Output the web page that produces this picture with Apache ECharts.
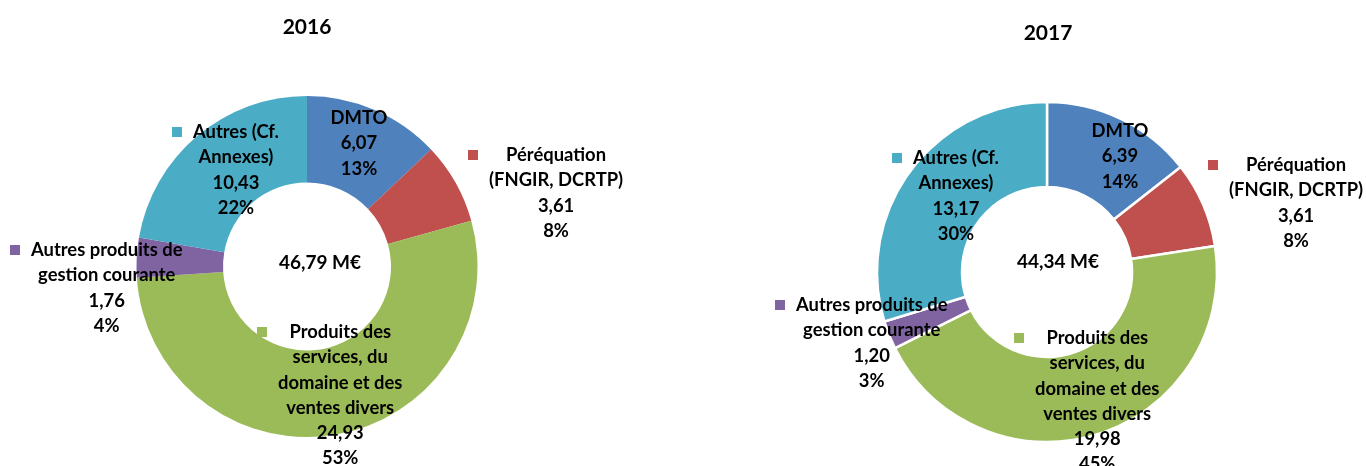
<!DOCTYPE html>
<html>
<head>
<meta charset="utf-8">
<script src="https://cdn.jsdelivr.net/npm/echarts@6/dist/echarts.min.js"></script>
<style>
html,body{margin:0;padding:0;background:#fff;}
#chart{width:1366px;height:466px;}
</style>
</head>
<body>
<div id="chart"></div>
<script>
// ---- data ----
const categories = ['DMTO', 'Péréquation\n(FNGIR, DCRTP)', 'Produits des\nservices, du\ndomaine et des\nventes divers', 'Autres produits de\ngestion courante', 'Autres (Cf.\nAnnexes)'];
const years = ['2016', '2017'];
const values2016 = [6.07, 3.61, 24.93, 1.76, 10.43];
const values2017 = [6.39, 3.61, 19.98, 1.20, 13.17];
const totalLabels = ['46,79 M€', '44,34 M€'];
const showKey = [false, true, true, true, true];

// ---- styles / layout ----
const colors = ['#4F81BD', '#C0504D', '#9BBB59', '#8064A2', '#4BACC6'];
const FONT = 'Lato';
const FS = 18.4;
const LH = 25.3;
const KEY = 10, GAP = 11;
// label anchors: [x, first line centre y]; x is block centre when no key, key left edge otherwise
const labelAnchors = [
  [[359, 118], [468, 155], [257, 332], [10, 250], [172, 132]],
  [[1120, 131], [1208, 165], [1014, 338], [775, 305], [892, 158]]
];
const pieCenters = [[307, 266.5], [1047, 272]];
const pieRadii = [[84, 170.5], [85, 170]];
const borders = [0, 2.5];

function fmtNum(v) { return v.toFixed(2).replace('.', ','); }

function buildLabel(p) {
  const i = p.dataIndex;
  const lines = p.name.split('\n').concat([fmtNum(p.value), Math.round(p.percent) + '%']);
  if (!showKey[i]) return lines.map(l => '{t|' + l + '}').join('\n');
  return lines.map((l, k) => (k === 0 ? '{sq' + i + '|}{gap|}' : '{pad|}') + '{t|' + l + '}').join('\n');
}

const rich = {
  gap: { width: GAP, align: 'left', lineHeight: LH },
  pad: { width: KEY + GAP, align: 'left', lineHeight: LH },
  t: { fontFamily: FONT, fontWeight: 'bold', fontSize: FS, color: '#000', align: 'center', lineHeight: LH }
};
colors.forEach((c, i) => {
  rich['sq' + i] = { width: KEY, height: KEY, backgroundColor: c, align: 'left', lineHeight: LH };
});

const allValues = [values2016, values2017];
const series = allValues.map((vals, s) => ({
  type: 'pie',
  center: pieCenters[s],
  radius: pieRadii[s],
  startAngle: 90,
  clockwise: true,
  avoidLabelOverlap: false,
  silent: true,
  itemStyle: { borderColor: '#fff', borderWidth: borders[s] },
  label: { show: true, position: 'outside', formatter: buildLabel, rich: rich },
  labelLine: { show: false },
  labelLayout: function (params) {
    const a = labelAnchors[s][params.dataIndex];
    return {
      x: a[0],
      y: a[1] - LH / 2,
      align: showKey[params.dataIndex] ? 'left' : 'center',
      verticalAlign: 'top'
    };
  },
  data: vals.map((v, i) => ({ name: categories[i], value: v, itemStyle: { color: colors[i] } }))
}));

const titlePos = [[307, 15], [1048, 21]];
const totalPos = [[320, 251], [1058, 250]];
const titles = [];
years.forEach((y, s) => {
  titles.push({ text: y, left: titlePos[s][0], top: titlePos[s][1], textAlign: 'center', padding: 0,
    textStyle: { fontFamily: FONT, fontWeight: 'bold', fontSize: 21, lineHeight: 24, color: '#000' } });
  titles.push({ text: totalLabels[s], left: totalPos[s][0], top: totalPos[s][1], textAlign: 'center', padding: 0,
    textStyle: { fontFamily: FONT, fontWeight: 'bold', fontSize: 19, lineHeight: 24, color: '#000' } });
});

const chart = echarts.init(document.getElementById('chart'));
chart.setOption({
  animation: false,
  backgroundColor: '#fff',
  title: titles,
  series: series
});
</script>
</body>
</html>
